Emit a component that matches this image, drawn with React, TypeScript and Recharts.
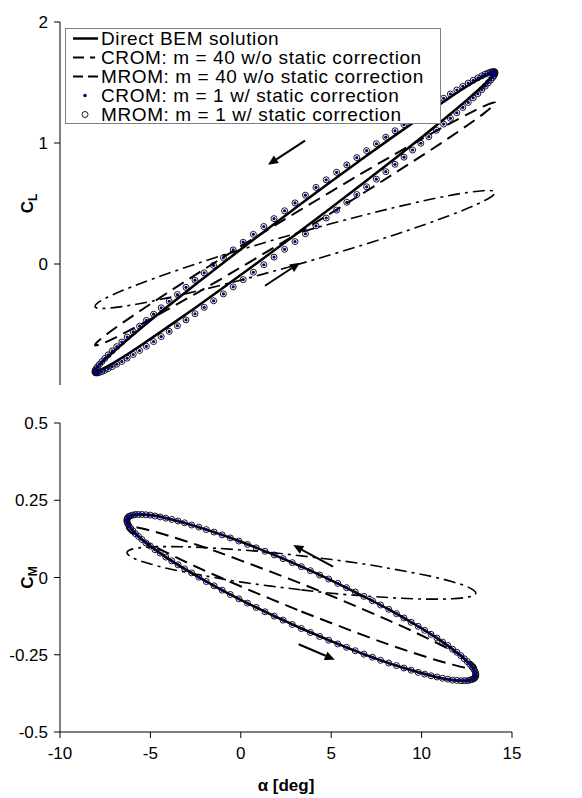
import React from "react";
import { LineChart, Line, XAxis, YAxis, ReferenceLine } from "recharts";

// pitch angle samples (deg) over one cycle, top panel (hidden x axis)
const alphaDense = [
  3, 3.52, 4.05, 4.56, 5.08, 5.59, 6.09, 6.58, 7.07, 7.54,
  8, 8.45, 8.88, 9.29, 9.69, 10.07, 10.43, 10.77, 11.09, 11.39,
  11.66, 11.91, 12.14, 12.34, 12.51, 12.66, 12.78, 12.88, 12.95, 12.99,
  13, 12.99, 12.95, 12.88, 12.78, 12.66, 12.51, 12.34, 12.14, 11.91,
  11.66, 11.39, 11.09, 10.77, 10.43, 10.07, 9.69, 9.29, 8.88, 8.45,
  8, 7.54, 7.07, 6.58, 6.09, 5.59, 5.08, 4.56, 4.05, 3.52,
  3, 2.48, 1.95, 1.44, 0.92, 0.41, -0.09, -0.58, -1.07, -1.54,
  -2, -2.45, -2.88, -3.29, -3.69, -4.07, -4.43, -4.77, -5.09, -5.39,
  -5.66, -5.91, -6.14, -6.34, -6.51, -6.66, -6.78, -6.88, -6.95, -6.99,
  -7, -6.99, -6.95, -6.88, -6.78, -6.66, -6.51, -6.34, -6.14, -5.91,
  -5.66, -5.39, -5.09, -4.77, -4.43, -4.07, -3.69, -3.29, -2.88, -2.45,
  -2, -1.54, -1.07, -0.58, -0.09, 0.41, 0.92, 1.44, 1.95, 2.48,
];
const alphaLine = [
  3, 4.74, 6.42, 8, 9.43, 10.66, 11.66, 12.4, 12.85, 13, 12.85, 12.4, 11.66,
  10.66, 9.43, 8, 6.42, 4.74, 3, 1.26, -0.42, -2, -3.43, -4.66, -5.66, -6.4,
  -6.85, -7, -6.85, -6.4, -5.66, -4.66, -3.43, -2, -0.42, 1.26, 3,
];

// same samples as read against the bottom panel's alpha axis
const alphaDenseB = [
  3.35, 3.85, 4.36, 4.86, 5.36, 5.85, 6.33, 6.81, 7.28, 7.73,
  8.18, 8.61, 9.02, 9.42, 9.81, 10.17, 10.52, 10.85, 11.16, 11.45,
  11.71, 11.95, 12.17, 12.36, 12.53, 12.67, 12.79, 12.88, 12.95, 12.99,
  13, 12.99, 12.95, 12.88, 12.79, 12.67, 12.53, 12.36, 12.17, 11.95,
  11.71, 11.45, 11.16, 10.85, 10.52, 10.17, 9.81, 9.42, 9.02, 8.61,
  8.18, 7.73, 7.28, 6.81, 6.33, 5.85, 5.36, 4.86, 4.36, 3.85,
  3.35, 2.85, 2.34, 1.85, 1.34, 0.85, 0.37, -0.11, -0.58, -1.03,
  -1.48, -1.91, -2.32, -2.72, -3.11, -3.47, -3.82, -4.15, -4.46, -4.75,
  -5.01, -5.25, -5.47, -5.66, -5.83, -5.97, -6.09, -6.18, -6.25, -6.29,
  -6.3, -6.29, -6.25, -6.18, -6.09, -5.97, -5.83, -5.66, -5.47, -5.25,
  -5.01, -4.75, -4.46, -4.15, -3.82, -3.47, -3.11, -2.72, -2.32, -1.91,
  -1.48, -1.03, -0.58, -0.11, 0.37, 0.85, 1.34, 1.85, 2.34, 2.85,
];
const alphaLineB = [
  3.35, 5.03, 6.65, 8.18, 9.55, 10.74, 11.71, 12.42, 12.85, 13, 12.85, 12.42,
  11.71, 10.74, 9.55, 8.18, 6.65, 5.03, 3.35, 1.68, 0.05, -1.48, -2.85, -4.04,
  -5.01, -5.72, -6.15, -6.3, -6.15, -5.72, -5.01, -4.04, -2.85, -1.48, 0.05,
  1.68, 3.35,
];

// CROM / MROM m = 1 with static correction (the two overlap)
const clStatic = [
  0.185, 0.25, 0.315, 0.38, 0.445, 0.51, 0.574, 0.638, 0.701, 0.763,
  0.824, 0.883, 0.942, 0.998, 1.052, 1.105, 1.156, 1.204, 1.25, 1.294,
  1.335, 1.373, 1.408, 1.441, 1.47, 1.497, 1.52, 1.54, 1.557, 1.57,
  1.58, 1.587, 1.59, 1.59, 1.586, 1.579, 1.569, 1.555, 1.538, 1.518,
  1.495, 1.468, 1.438, 1.405, 1.37, 1.331, 1.29, 1.247, 1.2, 1.152,
  1.101, 1.048, 0.994, 0.937, 0.879, 0.819, 0.758, 0.696, 0.633, 0.569,
  0.505, 0.44, 0.375, 0.31, 0.245, 0.18, 0.116, 0.052, -0.011, -0.073,
  -0.134, -0.193, -0.252, -0.308, -0.362, -0.415, -0.466, -0.514, -0.56, -0.604,
  -0.645, -0.683, -0.718, -0.751, -0.78, -0.807, -0.83, -0.85, -0.867, -0.88,
  -0.89, -0.897, -0.9, -0.9, -0.896, -0.889, -0.879, -0.865, -0.848, -0.828,
  -0.805, -0.778, -0.748, -0.715, -0.68, -0.641, -0.6, -0.557, -0.51, -0.462,
  -0.411, -0.358, -0.304, -0.247, -0.189, -0.129, -0.068, -0.006, 0.057, 0.121,
];
const cmStatic = [
  -0.165, -0.178, -0.191, -0.203, -0.215, -0.226, -0.237, -0.248, -0.258, -0.268,
  -0.277, -0.285, -0.293, -0.3, -0.307, -0.313, -0.318, -0.322, -0.326, -0.329,
  -0.332, -0.333, -0.334, -0.334, -0.334, -0.332, -0.33, -0.328, -0.324, -0.32,
  -0.315, -0.31, -0.303, -0.296, -0.289, -0.281, -0.272, -0.263, -0.253, -0.242,
  -0.232, -0.22, -0.209, -0.196, -0.184, -0.171, -0.158, -0.145, -0.131, -0.117,
  -0.103, -0.089, -0.075, -0.061, -0.047, -0.033, -0.019, -0.005, 0.008, 0.022,
  0.035, 0.048, 0.061, 0.073, 0.085, 0.096, 0.107, 0.118, 0.128, 0.138,
  0.147, 0.155, 0.163, 0.17, 0.177, 0.183, 0.188, 0.192, 0.196, 0.199,
  0.202, 0.203, 0.204, 0.204, 0.204, 0.202, 0.2, 0.198, 0.194, 0.19,
  0.185, 0.18, 0.173, 0.166, 0.159, 0.151, 0.142, 0.133, 0.123, 0.112,
  0.102, 0.09, 0.079, 0.066, 0.054, 0.041, 0.028, 0.015, 0.001, -0.013,
  -0.027, -0.041, -0.055, -0.069, -0.083, -0.097, -0.111, -0.125, -0.138, -0.152,
];

const clBem = [
  0.24, 0.456, 0.669, 0.872, 1.06, 1.225, 1.365, 1.473, 1.547, 1.585, 1.585,
  1.548, 1.475, 1.367, 1.228, 1.063, 0.876, 0.673, 0.46, 0.244, 0.031, -0.172,
  -0.36, -0.525, -0.665, -0.773, -0.847, -0.885, -0.885, -0.848, -0.775, -0.667,
  -0.528, -0.363, -0.176, 0.027, 0.24,
];
const clCrom40 = [
  -0.01, 0.074, 0.159, 0.242, 0.323, 0.396, 0.462, 0.517, 0.56, 0.59, 0.606,
  0.606, 0.592, 0.564, 0.522, 0.468, 0.403, 0.33, 0.25, 0.166, 0.082, -0.002,
  -0.083, -0.156, -0.222, -0.277, -0.32, -0.35, -0.366, -0.366, -0.352, -0.324,
  -0.282, -0.228, -0.163, -0.09, -0.01,
];
const clMrom40 = [
  0.24, 0.415, 0.587, 0.752, 0.904, 1.038, 1.151, 1.239, 1.299, 1.33, 1.33,
  1.301, 1.241, 1.154, 1.042, 0.908, 0.757, 0.592, 0.42, 0.245, 0.073, -0.092,
  -0.244, -0.378, -0.491, -0.579, -0.639, -0.67, -0.67, -0.641, -0.581, -0.494,
  -0.382, -0.248, -0.097, 0.068, 0.24,
];

const cmBem = [
  -0.165, -0.207, -0.245, -0.277, -0.302, -0.321, -0.332, -0.334, -0.329, -0.315,
  -0.294, -0.266, -0.232, -0.192, -0.149, -0.103, -0.057, -0.01, 0.035, 0.077,
  0.115, 0.147, 0.172, 0.191, 0.202, 0.204, 0.199, 0.185, 0.164, 0.136, 0.102,
  0.062, 0.019, -0.027, -0.074, -0.12, -0.165,
];
const cmCrom40 = [
  -0.04, -0.051, -0.059, -0.065, -0.069, -0.07, -0.069, -0.065, -0.059, -0.05,
  -0.04, -0.027, -0.014, 0.001, 0.015, 0.03, 0.045, 0.058, 0.07, 0.081, 0.089,
  0.095, 0.099, 0.1, 0.099, 0.095, 0.089, 0.08, 0.07, 0.057, 0.044, 0.029,
  0.015, 0, -0.015, -0.028, -0.04,
];
const cmMrom40 = [
  -0.11, -0.148, -0.184, -0.217, -0.244, -0.266, -0.282, -0.292, -0.294, -0.29,
  -0.279, -0.261, -0.237, -0.209, -0.175, -0.139, -0.1, -0.06, -0.02, 0.018,
  0.054, 0.087, 0.114, 0.136, 0.152, 0.162, 0.164, 0.16, 0.149, 0.131, 0.107,
  0.079, 0.045, 0.009, -0.03, -0.07, -0.11,
];

// direction arrows [alphaFrom, cFrom, alphaTo, cTo]
const clArrows = [
  [3.5, 1.02, 1.65, 0.82],
  [1.5, -0.18, 3.25, 0.01],
];
const cmArrows = [
  [5.1, 0.035, 2.9, 0.105],
  [3.2, -0.216, 5.2, -0.266],
];

const clTicks = [-1, 0, 1, 2];
const cmTicks = [-0.5, -0.25, 0, 0.25, 0.5];
const alphaTicks = [-10, -5, 0, 5, 10, 15];

const legendLabels = [
  "Direct BEM solution",
  "CROM: m = 40 w/o static correction",
  "MROM: m = 40 w/o static correction",
  "CROM: m = 1 w/ static correction",
  "MROM: m = 1 w/ static correction",
];

const FONT = '"Liberation Sans", Arial, Helvetica, sans-serif';

const zip = (xs: number[], ys: number[]) => xs.map((a, i) => ({ a, v: ys[i] }));

const Arrow = (props: any) => {
  const { x1, y1, x2, y2 } = props;
  const dx = x2 - x1;
  const dy = y2 - y1;
  const len = Math.hypot(dx, dy) || 1;
  const ux = dx / len;
  const uy = dy / len;
  const hl = 10;
  const hw = 4.5;
  const bx = x2 - ux * hl;
  const by = y2 - uy * hl;
  const pts = `${x2},${y2} ${bx - uy * hw},${by + ux * hw} ${bx + uy * hw},${by - ux * hw}`;
  return (
    <g>
      <line x1={x1} y1={y1} x2={bx} y2={by} stroke="#000" strokeWidth={2} />
      <polygon points={pts} fill="#000" />
    </g>
  );
};

const YTitle = ({ viewBox, sub }: any) => {
  const cx = 33;
  const cy = viewBox.y + viewBox.height / 2;
  return (
    <text
      x={cx}
      y={cy}
      transform={`rotate(-90, ${cx}, ${cy})`}
      textAnchor="middle"
      fontFamily={FONT}
      fontWeight="bold"
      fontSize={17}
      fill="#000"
    >
      C
      <tspan fontSize={12} dy={4}>
        {sub}
      </tspan>
    </text>
  );
};

const XTitle = ({ viewBox }: any) => (
  <text
    x={viewBox.x + viewBox.width / 2}
    y={viewBox.y + 59}
    textAnchor="middle"
    fontFamily={FONT}
    fontWeight="bold"
    fontSize={17}
    fill="#000"
  >
    α [deg]
  </text>
);

const tickStyle = { fontSize: 17, fill: "#000", fontFamily: FONT };
const axisStroke = { stroke: "#000" };

function LegendIcon({ i }: { i: number }) {
  return (
    <svg width={28} height={19} style={{ display: "block", flex: "none" }}>
      {i === 0 && <line x1={2} y1={9.5} x2={27} y2={9.5} stroke="#000" strokeWidth={2.5} />}
      {i === 1 && (
        <line x1={2} y1={9.5} x2={27} y2={9.5} stroke="#000" strokeWidth={2} strokeDasharray="11 6 5 6" />
      )}
      {i === 2 && (
        <line x1={2} y1={9.5} x2={27} y2={9.5} stroke="#000" strokeWidth={2} strokeDasharray="10 5" />
      )}
      {i === 3 && <circle cx={14} cy={9.5} r={1.8} fill="#000080" />}
      {i === 4 && <circle cx={14} cy={9.5} r={3} fill="none" stroke="#000" strokeWidth={0.9} />}
    </svg>
  );
}

function ChartLegend() {
  return (
    <div
      style={{
        position: "absolute",
        left: 65,
        top: 28,
        width: 374,
        height: 94,
        border: "1px solid #808080",
        background: "#fff",
        fontFamily: FONT,
        fontSize: 19,
        lineHeight: "19px",
        letterSpacing: 0.6,
        color: "#000",
        overflow: "hidden",
      }}
    >
      {legendLabels.map((t, i) => (
        <div key={t} style={{ display: "flex", alignItems: "center", height: 19, paddingLeft: 5 }}>
          <LegendIcon i={i} />
          <span style={{ marginLeft: 2, whiteSpace: "nowrap" }}>{t}</span>
        </div>
      ))}
    </div>
  );
}

type Set = { bem: any[]; crom40: any[]; mrom40: any[]; stat: any[] };

const series = (d: Set) => [
  <Line
    key="crom40"
    data={d.crom40}
    dataKey="v"
    type="natural"
    stroke="#000"
    strokeWidth={1.6}
    strokeDasharray="12 5 3 5"
    dot={false}
    activeDot={false}
    isAnimationActive={false}
  />,
  <Line
    key="mrom40"
    data={d.mrom40}
    dataKey="v"
    type="natural"
    stroke="#000"
    strokeWidth={2}
    strokeDasharray="13 7"
    dot={false}
    activeDot={false}
    isAnimationActive={false}
  />,
  <Line
    key="bem"
    data={d.bem}
    dataKey="v"
    type="natural"
    stroke="#000"
    strokeWidth={2.5}
    dot={false}
    activeDot={false}
    isAnimationActive={false}
  />,
  <Line
    key="mrom1"
    data={d.stat}
    dataKey="v"
    type="linear"
    stroke="none"
    dot={{ r: 3, fill: "none", stroke: "#000", strokeWidth: 0.9 }}
    activeDot={false}
    isAnimationActive={false}
  />,
  <Line
    key="crom1"
    data={d.stat}
    dataKey="v"
    type="linear"
    stroke="none"
    dot={{ r: 1.6, fill: "#000080", stroke: "none" }}
    activeDot={false}
    isAnimationActive={false}
  />,
];

export default function App() {
  const clData = {
    bem: zip(alphaLine, clBem),
    crom40: zip(alphaLine, clCrom40),
    mrom40: zip(alphaLine, clMrom40),
    stat: zip(alphaDense, clStatic),
  };
  const cmData = {
    bem: zip(alphaLineB, cmBem),
    crom40: zip(alphaLineB, cmCrom40),
    mrom40: zip(alphaLineB, cmMrom40),
    stat: zip(alphaDenseB, cmStatic),
  };

  return (
    <div
      style={{
        position: "absolute",
        left: 0,
        top: 0,
        width: 582,
        height: 798,
        background: "#fff",
        fontFamily: FONT,
      }}
    >
      <div style={{ position: "absolute", left: 0, top: 0 }}>
        <LineChart width={582} height={390} margin={{ top: 22, right: 70, bottom: 5, left: 0 }}>
          <XAxis hide type="number" dataKey="a" domain={[-8.75, 13.85]} allowDataOverflow />
          <YAxis
            type="number"
            width={60}
            domain={[-1, 2]}
            ticks={clTicks}
            allowDataOverflow
            tick={tickStyle}
            tickSize={6}
            tickMargin={6}
            axisLine={axisStroke}
            tickLine={axisStroke}
            label={<YTitle sub="L" />}
          />
          {series(clData)}
          {clArrows.map((r, i) => (
            <ReferenceLine
              key={i}
              segment={[
                { x: r[0], y: r[1] },
                { x: r[2], y: r[3] },
              ]}
              shape={Arrow}
              ifOverflow="visible"
            />
          ))}
        </LineChart>
      </div>

      <ChartLegend />

      <div style={{ position: "absolute", left: 0, top: 390 }}>
        <LineChart width={582} height={408} margin={{ top: 33, right: 70, bottom: 6, left: 0 }}>
          <XAxis
            type="number"
            dataKey="a"
            domain={[-10, 15]}
            ticks={alphaTicks}
            allowDataOverflow
            height={60}
            tick={tickStyle}
            tickSize={6}
            tickMargin={9}
            axisLine={axisStroke}
            tickLine={axisStroke}
            label={<XTitle />}
          />
          <YAxis
            type="number"
            width={60}
            domain={[-0.5, 0.5]}
            ticks={cmTicks}
            allowDataOverflow
            tick={tickStyle}
            tickSize={6}
            tickMargin={6}
            axisLine={axisStroke}
            tickLine={axisStroke}
            label={<YTitle sub="M" />}
          />
          {series(cmData)}
          {cmArrows.map((r, i) => (
            <ReferenceLine
              key={i}
              segment={[
                { x: r[0], y: r[1] },
                { x: r[2], y: r[3] },
              ]}
              shape={Arrow}
              ifOverflow="visible"
            />
          ))}
        </LineChart>
      </div>
    </div>
  );
}
